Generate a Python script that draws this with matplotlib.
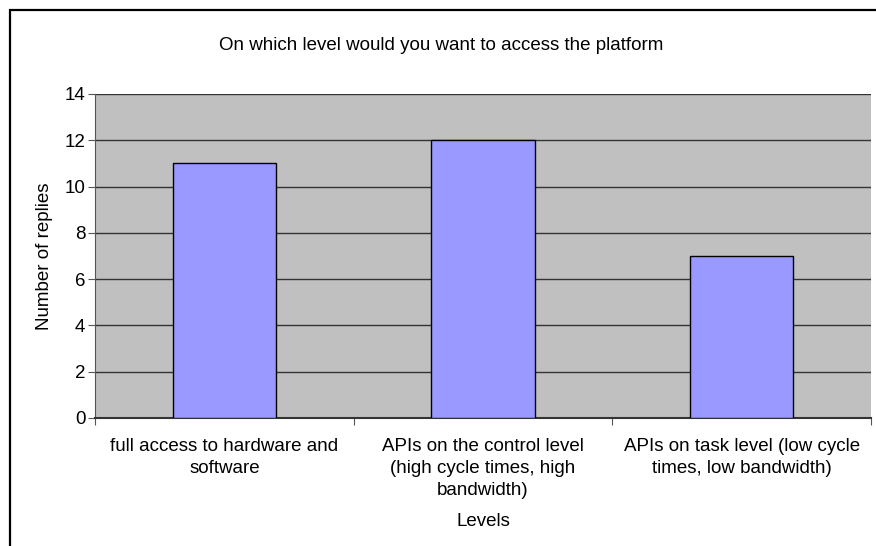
import numpy as np
import matplotlib
matplotlib.use('Agg')
import matplotlib.pyplot as plt
from matplotlib.patches import Rectangle

levels = ['full access to hardware and\nsoftware',
          'APIs on the control level\n(high cycle times, high\nbandwidth)',
          'APIs on task level (low cycle\ntimes, low bandwidth)']
replies = [11, 12, 7]

plt.rcParams['font.family'] = ['Liberation Sans', 'DejaVu Sans']
fs = 13.5

W, H = 876, 546
fig = plt.figure(figsize=(W / 100, H / 100), dpi=100)
ax = fig.add_axes([95 / W, 1 - 418 / H, (871 - 95) / W, (418 - 94) / H])

# chart frame, cut off at the right and bottom edges
fig.patches.append(Rectangle((10 / W, -0.1), 1.2, 1 - 10 / H + 0.1,
                             transform=fig.transFigure, fill=False,
                             edgecolor='black', linewidth=1.6))

x = np.arange(len(levels))
ax.set_facecolor('#c0c0c0')
ax.bar(x, replies, width=0.4, color='#9999ff', edgecolor='black',
       linewidth=1, zorder=3)

ax.set_xlim(-0.5, 2.5)
ax.set_ylim(0, 14)
ax.set_yticks(range(0, 15, 2))
ax.yaxis.grid(True, color='#333333', linewidth=1)
ax.set_axisbelow(True)

ax.set_xticks([-0.5, 0.5, 1.5, 2.5])
ax.set_xticklabels([])
ax.tick_params(axis='x', direction='out', length=5, color='#555555')
ax.tick_params(axis='y', direction='out', length=5, color='#555555',
               labelsize=fs, pad=2)
for i, lab in enumerate(levels):
    ax.text(i, -0.85, lab, ha='center', va='top', fontsize=fs,
            linespacing=1.38, transform=ax.transData)

for side in ['top', 'right']:
    ax.spines[side].set_visible(False)
ax.spines['left'].set_color('#555555')
ax.spines['bottom'].set_color('#333333')
ax.spines['bottom'].set_linewidth(1.5)

ax.set_ylabel('Number of replies', fontsize=fs, labelpad=8)
fig.text(441 / W, 1 - 45 / H, 'On which level would you want to access the platform',
         ha='center', va='center', fontsize=fs)
fig.text(483 / W, 1 - 522 / H, 'Levels', ha='center', va='center', fontsize=fs)

plt.savefig('out.png')
